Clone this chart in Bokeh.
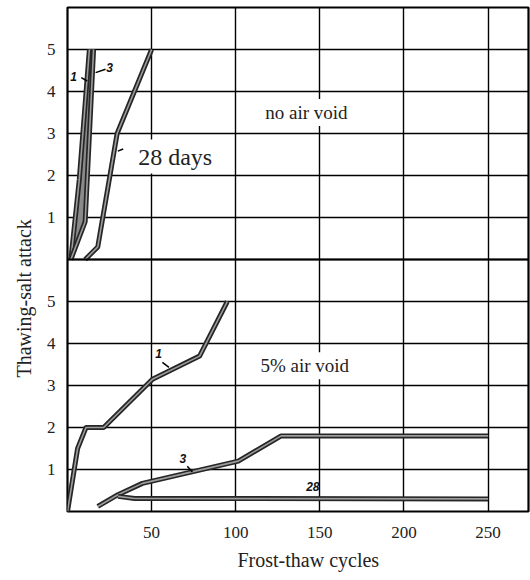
from bokeh.plotting import figure
from bokeh.models import Range1d, FixedTicker, Label, Span, Title
from bokeh.embed import file_html
from bokeh.resources import INLINE

# ---------------- data ----------------
# upper panel: no air void (values 0..5, drawn with a vertical offset of 6)
top_1_x = [2, 7, 13]
top_1_y = [0, 1.9, 5]
top_3_x = [2, 10.5, 15.5]
top_3_y = [0, 0.9, 5]
top_28_x = [10.5, 18, 29.5, 50]
top_28_y = [0, 0.3, 3.0, 5]

# lower panel: 5% air void
bot_1_x = [0, 6, 11, 21.5, 50.5, 78.5, 95]
bot_1_y = [0, 1.5, 2.0, 2.0, 3.15, 3.7, 5]
bot_3_x = [18, 30, 44.5, 101.5, 127, 250]
bot_3_y = [0.12, 0.4, 0.67, 1.2, 1.8, 1.8]
bot_28_x = [30, 40, 250]
bot_28_y = [0.36, 0.31, 0.3]

x_ticks = [50, 100, 150, 200, 250]
y_ticks_bottom = [1, 2, 3, 4, 5]
y_ticks_top = [1, 2, 3, 4, 5]
OFFSET = 6

SERIF = "Liberation Serif"
SANS = "Liberation Sans"

p = figure(width=530, height=580, output_backend="svg", toolbar_location=None,
           x_range=Range1d(0, 274), y_range=Range1d(0, 12),
           min_border_left=67, min_border_right=2, min_border_top=7,
           min_border_bottom=69)
p.background_fill_color = "white"
p.border_fill_color = "white"
p.outline_line_color = "black"
p.outline_line_width = 2.2

# axes
p.xaxis.ticker = FixedTicker(ticks=x_ticks)
ytick_pos = y_ticks_bottom + [t + OFFSET for t in y_ticks_top]
p.yaxis.ticker = FixedTicker(ticks=ytick_pos)
p.yaxis.major_label_overrides = {
    **{t: str(t) for t in y_ticks_bottom},
    **{t + OFFSET: str(t) for t in y_ticks_top},
}
for ax in (p.xaxis[0], p.yaxis[0]):
    ax.axis_line_color = None
    ax.major_tick_line_color = None
    ax.minor_tick_line_color = None
    ax.major_label_text_font = SERIF
    ax.major_label_text_font_size = "17px"
    ax.major_label_text_color = "#222222"
p.xaxis.major_label_standoff = 9
p.yaxis.major_label_standoff = 6

# grid
p.xgrid.ticker = FixedTicker(ticks=x_ticks)
p.ygrid.ticker = FixedTicker(ticks=list(range(1, 12)))
for g in (p.xgrid[0], p.ygrid[0]):
    g.grid_line_color = "black"
    g.grid_line_width = 1.4
    g.grid_line_alpha = 1.0
p.add_layout(Span(location=OFFSET, dimension="width", line_color="black", line_width=2.2))

# text boxes that cover grid lines
def boxed(x, y, text, size, font=SERIF, style="normal", pad=3):
    lab = Label(x=x, y=y, text=text, text_font=font, text_font_size=size,
                text_font_style=style, text_align="center", text_baseline="middle",
                text_color="#222222", background_fill_color="white",
                padding=pad)
    p.add_layout(lab)

boxed(64, 8.45, "28 days", "24px", pad=4)
boxed(142, 9.5, "no air void", "19px")
boxed(141, 3.47, "5% air void", "19px")

# band between curves 1 and 3 (upper panel)
band_x = top_1_x + top_3_x[::-1]
band_y = [v + OFFSET for v in top_1_y] + [v + OFFSET for v in top_3_y[::-1]]
p.patch(band_x, band_y, fill_color="#8a8a8a", line_color=None)

def curve(xs, ys, offset=0):
    yy = [v + offset for v in ys]
    p.line(xs, yy, line_color="#262626", line_width=5, line_join="round")
    p.line(xs, yy, line_color="#9c9c9c", line_width=1.6, line_join="round")

curve(top_1_x, top_1_y, OFFSET)
curve(top_3_x, top_3_y, OFFSET)
curve(top_28_x, top_28_y, OFFSET)
curve(bot_1_x, bot_1_y)
curve(bot_3_x, bot_3_y)
curve(bot_28_x, bot_28_y)

# curve labels with short leaders
def tag(x, y, text):
    p.add_layout(Label(x=x, y=y, text=text, text_font=SANS, text_font_size="12px",
                       text_font_style="bold italic", text_align="center",
                       text_baseline="middle", text_color="#111111"))

tag(3.6, 10.36, "1")
tag(25, 10.57, "3")
tag(54.2, 3.76, "1")
tag(68.5, 1.27, "3")
tag(145.8, 0.6, "28")

leaders = [
    ([8.2, 11.7], [10.33, 10.25]),
    ([22.6, 16.7], [10.53, 10.45]),
    ([33.1, 29.9], [8.63, 8.58]),
    ([56.4, 60.3], [3.55, 3.43]),
    ([71.2, 74.2], [1.08, 0.94]),
]
for lx, ly in leaders:
    p.line(lx, ly, line_color="black", line_width=1.5)

# axis titles
xt = Title(text="Frost-thaw cycles", align="left", offset=170, standoff=12,
           text_font=SERIF, text_font_size="20px", text_font_style="normal",
           text_color="#222222")
p.add_layout(xt, "below")
yt = Title(text="Thawing-salt attack", align="left", offset=134, standoff=18,
           text_font=SERIF, text_font_size="20px", text_font_style="normal",
           text_color="#222222")
p.add_layout(yt, "left")

open("out.html", "w").write(file_html(p, INLINE))
